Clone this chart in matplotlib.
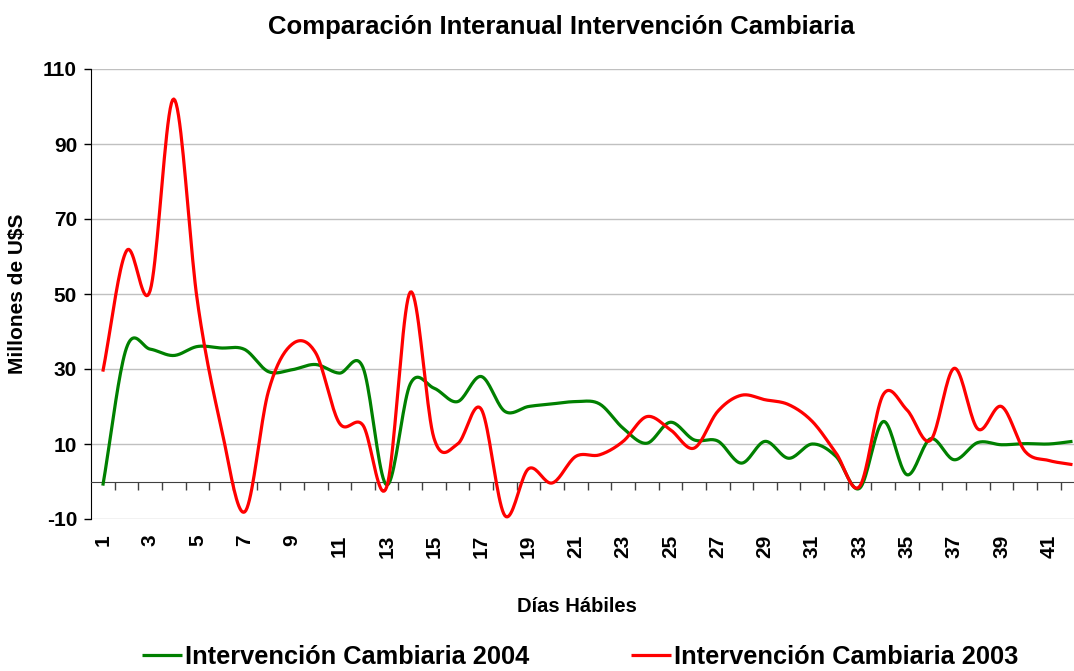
import numpy as np
import matplotlib
matplotlib.use("Agg")
import matplotlib.pyplot as plt
from matplotlib.transforms import blended_transform_factory

plt.rcParams["font.family"] = ["Liberation Sans", "DejaVu Sans"]
plt.rcParams["font.weight"] = "bold"
plt.rcParams["axes.unicode_minus"] = False

# Días hábiles 1..42
dias = np.arange(1, 43)

# Millones de U$S
interv_2004 = [
    -1.1, 35.6, 35.3, 33.6, 36.0, 35.6, 35.2, 29.3, 29.8, 31.2,
    28.9, 30.4, -0.9, 26.0, 24.9, 21.3, 28.0, 18.7, 20.0, 20.7,
    21.3, 20.7, 14.2, 10.2, 15.8, 11.1, 10.8, 4.9, 10.7, 6.2,
    10.0, 6.7, -1.8, 16.0, 1.8, 11.4, 5.8, 10.4, 9.8, 10.1,
    10.0, 10.7,
]
interv_2003 = [
    29.3, 61.5, 50.9, 102.0, 48.0, 14.6, -8.1, 24.0, 36.6, 34.3,
    15.6, 15.0, -1.5, 50.5, 11.6, 10.0, 19.3, -9.1, 3.4, -0.4,
    6.7, 7.1, 10.7, 17.3, 13.8, 8.9, 18.7, 23.0, 21.8, 20.5,
    16.0, 7.6, -1.3, 23.2, 19.1, 11.0, 30.2, 14.0, 20.0, 8.0,
    5.6, 4.5,
]

y_ticks = [-10, 10, 30, 50, 70, 90, 110]
x_labels = list(range(1, 42, 2))


def smooth(x, y, n=20):
    # Catmull-Rom pass through the points, like Excel's smoothed line
    x = np.asarray(x, float)
    y = np.asarray(y, float)
    px = np.concatenate([[2 * x[0] - x[1]], x, [2 * x[-1] - x[-2]]])
    py = np.concatenate([[2 * y[0] - y[1]], y, [2 * y[-1] - y[-2]]])
    t = np.linspace(0, 1, n, endpoint=False)
    xs, ys = [], []
    for i in range(1, len(px) - 2):
        for p, out in ((px, xs), (py, ys)):
            p0, p1, p2, p3 = p[i - 1], p[i], p[i + 1], p[i + 2]
            out.extend(0.5 * ((2 * p1) + (-p0 + p2) * t
                              + (2 * p0 - 5 * p1 + 4 * p2 - p3) * t ** 2
                              + (-p0 + 3 * p1 - 3 * p2 + p3) * t ** 3))
    xs.append(x[-1])
    ys.append(y[-1])
    return np.array(xs), np.array(ys)


fig = plt.figure(figsize=(10.74, 6.71), dpi=100)
ax = fig.add_axes([91 / 1074, 1 - 519 / 671, 1 - 91 / 1074, 450 / 671])

sx, sy = smooth(dias, interv_2004)
ax.plot(sx, sy, color="#008000", lw=2.3, label="Intervención Cambiaria 2004",
        solid_capstyle="butt", zorder=3)
sx, sy = smooth(dias, interv_2003)
ax.plot(sx, sy, color="#FF0000", lw=2.3, label="Intervención Cambiaria 2003",
        solid_capstyle="butt", zorder=4)

ax.set_xlim(0.5, 0.5 + (1074 - 91) / 23.65)
ax.set_ylim(-10, 110)
ax.set_yticks(y_ticks)
ax.yaxis.grid(True, color="#c0c0c0", lw=1)
ax.set_axisbelow(True)
ax.tick_params(axis="y", direction="out", length=5, width=1, labelsize=15,
               pad=5, colors="black")
for lab in ax.get_yticklabels():
    lab.set_fontweight("bold")

for s in ("top", "right"):
    ax.spines[s].set_visible(False)
ax.spines["left"].set_color("black")
ax.spines["bottom"].set_position(("data", 0))
ax.spines["bottom"].set_color("#404040")
ax.set_xticks(np.arange(1.5, 42.5, 1))
ax.tick_params(axis="x", direction="out", length=6, width=1, labelbottom=False,
               colors="#404040")

trans = blended_transform_factory(ax.transData, ax.transAxes)
for d in x_labels:
    ax.text(d, -0.035, str(d), transform=trans, rotation=90, ha="center",
            va="top", fontsize=15, fontweight="bold")

fig.text(0.523, 1 - 27 / 671, "Comparación Interanual Intervención Cambiaria",
         ha="center", va="center", fontsize=18.5, fontweight="bold")
fig.text(577 / 1074, 1 - 607 / 671, "Días Hábiles", ha="center", va="center",
         fontsize=14.5, fontweight="bold")
fig.text(18 / 1074, 1 - 294 / 671, "Millones de U$S", ha="center", va="center",
         rotation=90, fontsize=15, fontweight="bold")

fig.legend(loc="lower center", bbox_to_anchor=(0.54, -0.024), ncol=2,
           frameon=False, handlelength=1.6, handletextpad=0.1,
           columnspacing=4.0, borderpad=0.2,
           prop={"weight": "bold", "size": 18.3})

fig.savefig("out.png", dpi=100)
